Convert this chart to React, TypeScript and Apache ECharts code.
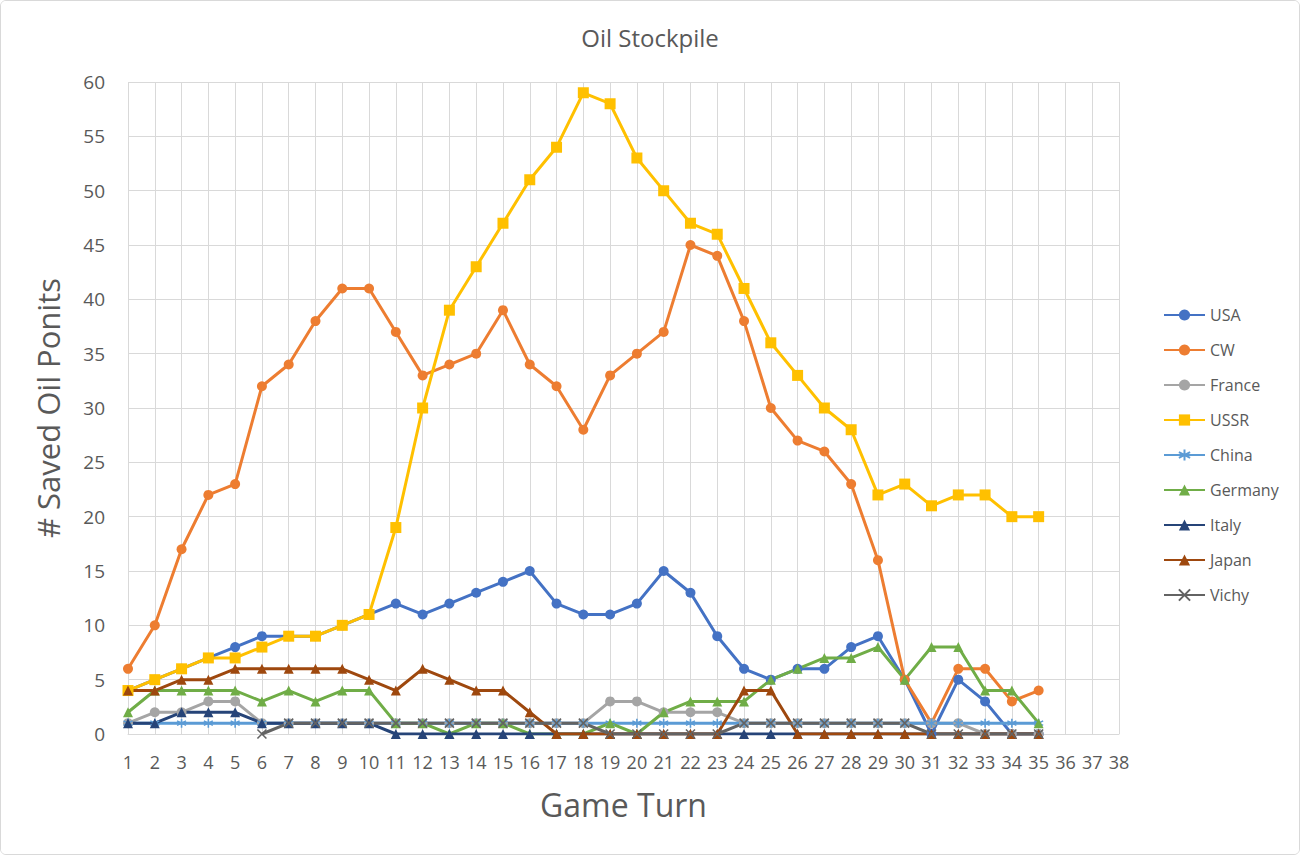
import React, { useEffect, useRef } from "react";
import * as echarts from "echarts";

const turns = Array.from({ length: 38 }, (_, i) => String(i + 1));

const usa = [4, 5, 6, 7, 8, 9, 9, 9, 10, 11, 12, 11, 12, 13, 14, 15, 12, 11, 11, 12, 15, 13, 9, 6, 5, 6, 6, 8, 9, 5, 0, 5, 3, 0, 0];
const cw = [6, 10, 17, 22, 23, 32, 34, 38, 41, 41, 37, 33, 34, 35, 39, 34, 32, 28, 33, 35, 37, 45, 44, 38, 30, 27, 26, 23, 16, 5, 1, 6, 6, 3, 4];
const france = [1, 2, 2, 3, 3, 1, 1, 1, 1, 1, 1, 1, 1, 1, 1, 1, 1, 1, 3, 3, 2, 2, 2, 1, 1, 1, 1, 1, 1, 1, 1, 1, 0, 0, 0];
const ussr = [4, 5, 6, 7, 7, 8, 9, 9, 10, 11, 19, 30, 39, 43, 47, 51, 54, 59, 58, 53, 50, 47, 46, 41, 36, 33, 30, 28, 22, 23, 21, 22, 22, 20, 20];
const china = [1, 1, 1, 1, 1, 1, 1, 1, 1, 1, 1, 1, 1, 1, 1, 1, 1, 1, 1, 1, 1, 1, 1, 1, 1, 1, 1, 1, 1, 1, 1, 1, 1, 1, 1];
const germany = [2, 4, 4, 4, 4, 3, 4, 3, 4, 4, 1, 1, 0, 1, 1, 0, 0, 0, 1, 0, 2, 3, 3, 3, 5, 6, 7, 7, 8, 5, 8, 8, 4, 4, 1];
const italy = [1, 1, 2, 2, 2, 1, 1, 1, 1, 1, 0, 0, 0, 0, 0, 0, 0, 0, 0, 0, 0, 0, 0, 0, 0, 0, 0, 0, 0, 0, 0, 0, 0, 0, 0];
const japan = [4, 4, 5, 5, 6, 6, 6, 6, 6, 5, 4, 6, 5, 4, 4, 2, 0, 0, 0, 0, 0, 0, 0, 4, 4, 0, 0, 0, 0, 0, 0, 0, 0, 0, 0];
const vichy = [null, null, null, null, null, 0, 1, 1, 1, 1, 1, 1, 1, 1, 1, 1, 1, 1, 0, 0, 0, 0, 0, 1, 1, 1, 1, 1, 1, 1, 0, 0, 0, 0, 0];

const seriesNames = ["USA", "CW", "France", "USSR", "China", "Germany", "Italy", "Japan", "Vichy"];
const seriesData = [usa, cw, france, ussr, china, germany, italy, japan, vichy];
const seriesColors = ["#4472C4", "#ED7D31", "#A5A5A5", "#FFC000", "#5B9BD5", "#70AD47", "#264478", "#9E480E", "#636363"];

const ASTERISK = "path://M5,0L5,10M0.67,2.5L9.33,7.5M0.67,7.5L9.33,2.5";
const CROSS = "path://M0,0L10,10M0,10L10,0";
const symbols = ["circle", "circle", "circle", "rect", ASTERISK, "triangle", "triangle", "triangle", CROSS];

const FONT = "'Open Sans', sans-serif";

export default function App() {
  const ref = useRef<HTMLDivElement>(null);
  useEffect(() => {
    if (!ref.current) return;
    const chart = echarts.init(ref.current, undefined, { renderer: "svg" });
    const series = seriesNames.map((name, i) => {
      const stroked = i === 4 || i === 8;
      return {
        name,
        type: "line",
        data: seriesData[i],
        symbol: symbols[i],
        symbolSize: stroked ? 9 : i === 3 ? 11 : 10,
        showSymbol: true,
        lineStyle: { color: seriesColors[i], width: 3 },
        itemStyle: stroked
          ? { color: seriesColors[i], borderColor: seriesColors[i], borderWidth: 1.6 }
          : { color: seriesColors[i], borderWidth: 0 },
        emphasis: { disabled: true },
      };
    });
    chart.setOption({
      animation: false,
      backgroundColor: "#ffffff",
      title: {
        text: "Oil Stockpile",
        left: "center",
        top: 19,
        textStyle: { color: "#595959", fontSize: 24, fontWeight: "normal", fontFamily: FONT },
      },
      legend: {
        orient: "vertical",
        left: 1157,
        top: 301,
        itemWidth: 41,
        itemHeight: 14,
        itemGap: 19,
        textStyle: { color: "#595959", fontSize: 16, fontFamily: FONT },
        data: seriesNames,
      },
      grid: { left: 127, right: 180, top: 81, bottom: 120, containLabel: false },
      xAxis: {
        type: "category",
        data: turns,
        boundaryGap: false,
        name: "Game Turn",
        nameLocation: "middle",
        nameGap: 54,
        nameTextStyle: { color: "#595959", fontSize: 32, fontFamily: FONT },
        axisLine: { lineStyle: { color: "#d9d9d9", width: 1 } },
        axisTick: { show: false },
        axisLabel: { color: "#595959", fontSize: 18, fontFamily: FONT, interval: 0, margin: 19 },
        splitLine: { show: true, interval: 0, lineStyle: { color: "#d9d9d9", width: 1 } },
      },
      yAxis: {
        type: "value",
        min: 0,
        max: 60,
        interval: 5,
        name: "# Saved Oil Ponits",
        nameLocation: "middle",
        nameGap: 65,
        nameTextStyle: { color: "#595959", fontSize: 31, fontFamily: FONT },
        axisLine: { show: false },
        axisTick: { show: false },
        axisLabel: { color: "#595959", fontSize: 19, fontFamily: FONT, margin: 23 },
        splitLine: { show: true, lineStyle: { color: "#d9d9d9", width: 1 } },
      },
      series,
    });
    return () => chart.dispose();
  }, []);
  return (
    <div
      style={{
        position: "absolute",
        left: 0,
        top: 0,
        width: 1298,
        height: 853,
        border: "1px solid #d9d9d9",
        borderRadius: 6,
        background: "#fff",
        overflow: "hidden",
      }}
    >
      <div ref={ref} style={{ width: 1298, height: 853 }} />
    </div>
  );
}
